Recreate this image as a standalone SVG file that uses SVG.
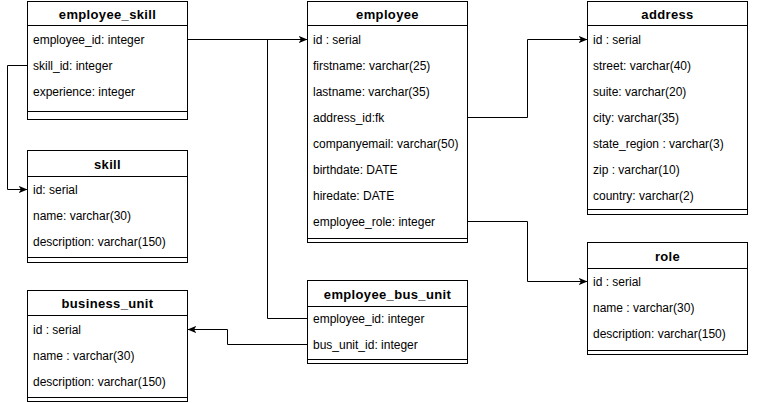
<svg xmlns="http://www.w3.org/2000/svg" width="768" height="403" viewBox="0 0 768 403">
<defs>
<style>
.box{fill:#fff;stroke:#000;stroke-width:1}
.ln{stroke:#000;stroke-width:1;fill:none}
.hd{font-family:"Liberation Sans",Arial,sans-serif;font-size:13px;font-weight:bold;fill:#000;text-anchor:middle;letter-spacing:0.35px}
.rw{font-family:"Liberation Sans",Arial,sans-serif;font-size:12px;fill:#000}
.cn{stroke:#000;stroke-width:1;fill:none}
</style>
<marker id="arr" viewBox="0 0 10 8" refX="10" refY="4" markerWidth="9" markerHeight="7" orient="auto" markerUnits="userSpaceOnUse">
<path d="M0,0 L10,4 L0,8 L2.5,4 Z" fill="#000"/>
</marker>
</defs>
<rect width="768" height="403" fill="#fff"/>

<g id="connectors">
<path class="cn" d="M187.5,39.5 H307.5" marker-end="url(#arr)"/>
<path class="cn" d="M27.5,65.5 H7.5 V189.5 H27.5" marker-end="url(#arr)"/>
<path class="cn" d="M467.5,117.5 H527.5 V39.5 H587.5" marker-end="url(#arr)"/>
<path class="cn" d="M467.5,221.5 H527.5 V281.5 H587.5" marker-end="url(#arr)"/>
<path class="cn" d="M307.5,318.5 H267.5 V39.5"/>
<path class="cn" d="M307.5,344.5 H227.5 V329.5 H187.5" marker-end="url(#arr)"/>
</g>

<g id="employee_skill">
<rect class="box" x="27.5" y="1.5" width="160" height="118"/>
<line class="ln" x1="27.5" y1="25.5" x2="187.5" y2="25.5"/>
<line class="ln" x1="27.5" y1="111.5" x2="187.5" y2="111.5"/>
<text class="hd" x="107.5" y="19">employee_skill</text>
<text class="rw" x="33" y="44">employee_id: integer</text>
<text class="rw" x="33" y="70">skill_id: integer</text>
<text class="rw" x="33" y="96">experience: integer</text>
</g>

<g id="skill">
<rect class="box" x="27.5" y="150.5" width="160" height="112"/>
<line class="ln" x1="27.5" y1="176.5" x2="187.5" y2="176.5"/>
<line class="ln" x1="27.5" y1="257.5" x2="187.5" y2="257.5"/>
<text class="hd" x="107.5" y="169">skill</text>
<text class="rw" x="33" y="194">id: serial</text>
<text class="rw" x="33" y="220">name: varchar(30)</text>
<text class="rw" x="33" y="246">description: varchar(150)</text>
</g>

<g id="business_unit">
<rect class="box" x="27.5" y="290.5" width="160" height="111"/>
<line class="ln" x1="27.5" y1="315.5" x2="187.5" y2="315.5"/>
<line class="ln" x1="27.5" y1="397.5" x2="187.5" y2="397.5"/>
<text class="hd" x="107.5" y="308">business_unit</text>
<text class="rw" x="33" y="334">id : serial</text>
<text class="rw" x="33" y="360">name : varchar(30)</text>
<text class="rw" x="33" y="386">description: varchar(150)</text>
</g>

<g id="employee">
<rect class="box" x="307.5" y="1.5" width="160" height="241"/>
<line class="ln" x1="307.5" y1="25.5" x2="467.5" y2="25.5"/>
<line class="ln" x1="307.5" y1="238.5" x2="467.5" y2="238.5"/>
<text class="hd" x="387.5" y="19">employee</text>
<text class="rw" x="313" y="44">id : serial</text>
<text class="rw" x="313" y="70">firstname: varchar(25)</text>
<text class="rw" x="313" y="96">lastname: varchar(35)</text>
<text class="rw" x="313" y="122">address_id:fk</text>
<text class="rw" x="313" y="148">companyemail: varchar(50)</text>
<text class="rw" x="313" y="174">birthdate: DATE</text>
<text class="rw" x="313" y="200">hiredate: DATE</text>
<text class="rw" x="313" y="226">employee_role: integer</text>
</g>

<g id="employee_bus_unit">
<rect class="box" x="307.5" y="280.5" width="160" height="83"/>
<line class="ln" x1="307.5" y1="306.5" x2="467.5" y2="306.5"/>
<line class="ln" x1="307.5" y1="359.5" x2="467.5" y2="359.5"/>
<text class="hd" x="387.5" y="299">employee_bus_unit</text>
<text class="rw" x="313" y="323">employee_id: integer</text>
<text class="rw" x="313" y="349">bus_unit_id: integer</text>
</g>

<g id="address">
<rect class="box" x="587.5" y="1.5" width="160" height="213"/>
<line class="ln" x1="587.5" y1="25.5" x2="747.5" y2="25.5"/>
<line class="ln" x1="587.5" y1="209.5" x2="747.5" y2="209.5"/>
<text class="hd" x="667.5" y="19">address</text>
<text class="rw" x="593" y="44">id : serial</text>
<text class="rw" x="593" y="70">street: varchar(40)</text>
<text class="rw" x="593" y="96">suite: varchar(20)</text>
<text class="rw" x="593" y="122">city: varchar(35)</text>
<text class="rw" x="593" y="148">state_region : varchar(3)</text>
<text class="rw" x="593" y="174">zip : varchar(10)</text>
<text class="rw" x="593" y="200">country: varchar(2)</text>
</g>

<g id="role">
<rect class="box" x="587.5" y="242.5" width="160" height="112"/>
<line class="ln" x1="587.5" y1="268.5" x2="747.5" y2="268.5"/>
<line class="ln" x1="587.5" y1="350.5" x2="747.5" y2="350.5"/>
<text class="hd" x="667.5" y="261">role</text>
<text class="rw" x="593" y="286">id : serial</text>
<text class="rw" x="593" y="312">name : varchar(30)</text>
<text class="rw" x="593" y="338">description: varchar(150)</text>
</g>
</svg>
